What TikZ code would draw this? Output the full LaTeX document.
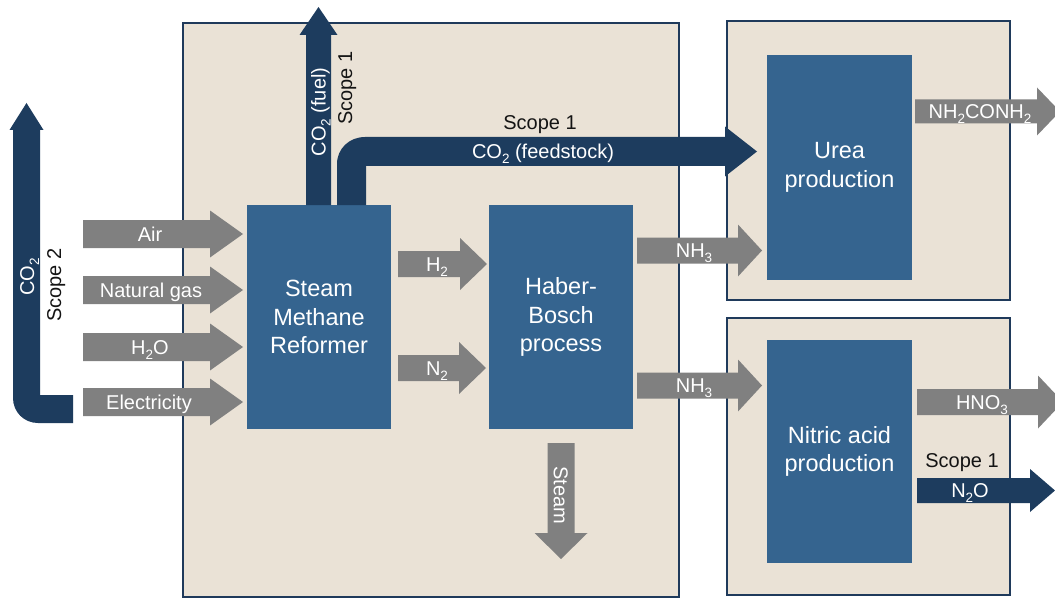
\documentclass[tikz,border=0pt]{standalone}
\usepackage{fontspec}
\setmainfont{Liberation Sans}
\usetikzlibrary{calc}
\definecolor{beige}{HTML}{EAE2D6}
\definecolor{panelborder}{HTML}{1F3A5B}
\definecolor{boxblue}{HTML}{35648F}
\definecolor{navyarrow}{HTML}{1D3C5E}
\definecolor{greyarrow}{HTML}{808080}
\definecolor{scopeblack}{HTML}{141414}
% chemical subscript
\newcommand\chemsub[1]{\raisebox{-5pt}{\fontsize{13.5pt}{13.5pt}\selectfont #1}}
% horizontal block arrow: style, start, tip, body half, head half, head length
\newcommand\arrR[6]{\fill[#1] ($(#2)+(0,-#4)$) -- ($(#3)+(-#6,-#4)$) -- ($(#3)+(-#6,-#5)$) -- (#3) -- ($(#3)+(-#6,#5)$) -- ($(#3)+(-#6,#4)$) -- ($(#2)+(0,#4)$) -- cycle;}
% vertical block arrow: style, start, tip, body half, head half, signed head length
\newcommand\arrV[6]{\fill[#1] ($(#2)+(-#4,0)$) -- ($(#3)+(-#4,#6)$) -- ($(#3)+(-#5,#6)$) -- (#3) -- ($(#3)+(#5,#6)$) -- ($(#3)+(#4,#6)$) -- ($(#2)+(#4,0)$) -- cycle;}
\begin{document}
\begin{tikzpicture}[x=1pt,y=-1pt,
  panel/.style={draw=panelborder, line width=2.5pt, fill=beige, inner sep=0pt, outer sep=0pt},
  box/.style={fill=boxblue, text=white, align=center, inner sep=0pt, outer sep=0pt,
    font=\fontsize{23.5}{28.5}\selectfont},
  lbl/.style={text=white, inner sep=0pt, font=\fontsize{20}{24}\selectfont, text height=14.4pt, text depth=0pt},
  scopelbl/.style={lbl, text=scopeblack},
  grey/.style={fill=greyarrow},
  navy/.style={fill=navyarrow}]
\useasboundingbox (0,0) rectangle (1055,599);
\fill[white] (0,0) rectangle (1055,599);

% panels
\node[panel, minimum width=496pt, minimum height=574pt] (mainpanel) at (431,310) {};
\node[panel, minimum width=283pt, minimum height=279pt] (ureapanel) at (868.5,160.5) {};
\node[panel, minimum width=283pt, minimum height=277pt] (nitricpanel) at (868.5,456.5) {};

% process boxes
\node[box, minimum width=144pt, minimum height=224pt] (smr) at (319,317) {Steam\\Methane\\Reformer};
\node[box, minimum width=144pt, minimum height=224pt] (haber) at (561,317) {Haber-\\Bosch\\process};
\node[box, minimum width=145pt, minimum height=225pt] (urea) at (839.5,167.5) {Urea\\production};
\node[box, minimum width=145pt, minimum height=223pt] (nitric) at (839.5,451.5) {Nitric acid\\production};

% input arrows
\coordinate (airS) at (83,234);   \coordinate (airT) at ([xshift=-4pt]smr.west |- airS);
\coordinate (gasS) at (83,290);   \coordinate (gasT) at ([xshift=-4pt]smr.west |- gasS);
\coordinate (waterS) at (83,347); \coordinate (waterT) at ([xshift=-4pt]smr.west |- waterS);
\coordinate (elecS) at (83,402);  \coordinate (elecT) at ([xshift=-4pt]smr.west |- elecS);
\arrR{grey}{airS}{airT}{14}{23.5}{33}
\arrR{grey}{gasS}{gasT}{14}{23.5}{33}
\arrR{grey}{waterS}{waterT}{14}{23.5}{33}
\arrR{grey}{elecS}{elecT}{14}{23.5}{33}

% SMR -> Haber
\coordinate (h2S) at ([xshift=7pt]smr.east |- 0,264);  \coordinate (h2T) at ([xshift=-2pt]haber.west |- h2S);
\coordinate (n2S) at ([xshift=7pt]smr.east |- 0,368);  \coordinate (n2T) at ([xshift=-3pt]haber.west |- n2S);
\arrR{grey}{h2S}{h2T}{13}{26}{27}
\arrR{grey}{n2S}{n2T}{13}{26}{27}

% Haber -> urea / nitric
\coordinate (nh3aS) at ([xshift=4pt]haber.east |- 0,250.5); \coordinate (nh3aT) at ([xshift=-5pt]urea.west |- nh3aS);
\coordinate (nh3bS) at ([xshift=4pt]haber.east |- 0,385.5); \coordinate (nh3bT) at ([xshift=-5pt]nitric.west |- nh3bS);
\arrR{grey}{nh3aS}{nh3aT}{13}{26}{24}
\arrR{grey}{nh3bS}{nh3bT}{13}{26}{24}

% products
\coordinate (ureaS) at ([xshift=3pt]urea.east |- 0,111.5); \coordinate (ureaT) at (1060,111.5);
\arrR{grey}{ureaS}{ureaT}{12}{24}{23}
\coordinate (hno3S) at ([xshift=5pt]nitric.east |- 0,402); \coordinate (hno3T) at (1063,402);
\arrR{grey}{hno3S}{hno3T}{13}{26.5}{25}
\coordinate (n2oS) at ([xshift=5pt]nitric.east |- 0,490.5); \coordinate (n2oT) at (1055,490.5);
\arrR{navy}{n2oS}{n2oT}{12.5}{21.5}{25}

% steam
\coordinate (steamS) at ([yshift=-14pt]haber.south); \coordinate (steamT) at (561,559);
\arrV{grey}{steamS}{steamT}{13.5}{26.5}{-26}

% CO2 fuel
\coordinate (fuelS) at (smr.north -| 318.5,0); \coordinate (fuelT) at (318.5,7);
\arrV{navy}{fuelS}{fuelT}{12.5}{19}{28}

% CO2 feedstock (bent)
\coordinate (feedT) at ([xshift=-10pt]urea.west |- 0,151.5);
\fill[navy] (smr.north -| 337,0) -- (337,164)
  .. controls (337,148.5) and (349.5,137) .. (365,137)
  -- ($(feedT)+(-32,-14.5)$) -- ($(feedT)+(-32,-25)$) -- (feedT)
  -- ($(feedT)+(-32,25)$) -- ($(feedT)+(-32,14.5)$) -- (366,166) -- (smr.north -| 366,0) -- cycle;

% CO2 scope 2 (bent)
\coordinate (sc2T) at (26.5,103);
\fill[navy] (73,395) -- (73,423) -- (38,423)
  .. controls (24,423) and (13,412) .. (13,398)
  -- (13,130) -- (9.5,130) -- (sc2T) -- (43.5,130) -- (40,130) -- (40,395) -- cycle;

% labels
\node[lbl] (lair) at (150,234) {Air};
\node[lbl] (lgas) at (151,290) {Natural gas};
\node[lbl] (lwater) at (150,347) {H\chemsub{2}O};
\node[lbl] (lelec) at (149,402) {Electricity};
\node[lbl] (lh2) at (437,264) {H\chemsub{2}};
\node[lbl] (ln2) at (437,368) {N\chemsub{2}};
\node[lbl] (lnh3a) at (694,250) {NH\chemsub{3}};
\node[lbl] (lnh3b) at (694,385.5) {NH\chemsub{3}};
\node[lbl] (lurea) at (980,111.5) {NH\chemsub{2}CONH\chemsub{2}};
\node[lbl] (lhno3) at (982,402) {HNO\chemsub{3}};
\node[lbl] (ln2o) at (970,490.5) {N\chemsub{2}O};
\node[scopelbl] (sn2o) at (962,460) {Scope 1};
\node[lbl] (lfeed) at (543,151.5) {CO\chemsub{2} (feedstock)};
\node[scopelbl] (sfeed) at (540,122) {Scope 1};
\node[lbl, rotate=90] (lfuel) at (318.5,112) {CO\chemsub{2} (fuel)};
\node[scopelbl, rotate=90] (sfuel) at (345,88) {Scope 1};
\node[lbl, rotate=90] (lsc2) at (27,277) {CO\chemsub{2}};
\node[scopelbl, rotate=90] (ssc2) at (54,285) {Scope 2};
\node[lbl, rotate=-90] (lsteam) at (561,495) {Steam};
\end{tikzpicture}
\end{document}
